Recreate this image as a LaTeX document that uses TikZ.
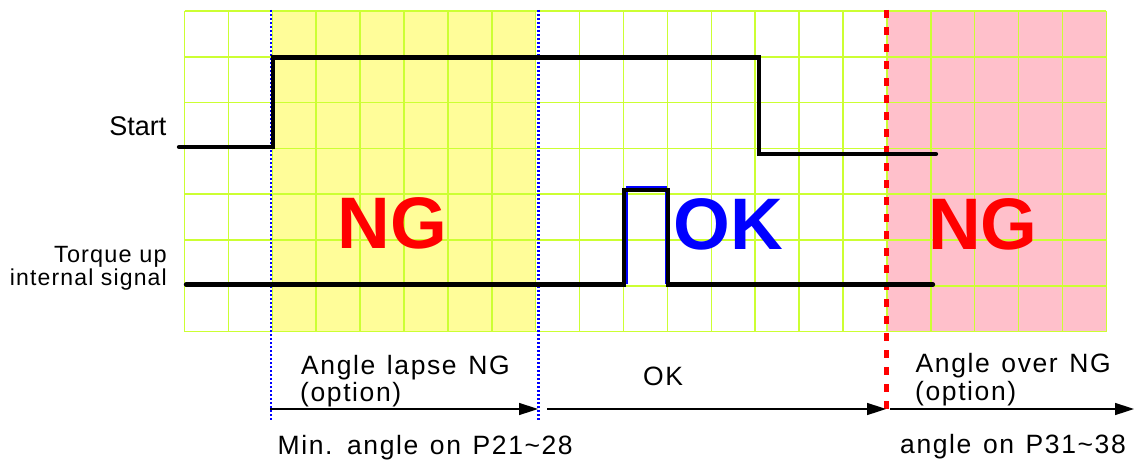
\documentclass[tikz,border=0pt]{standalone}
\usepackage{fontspec}
\setmainfont{Liberation Sans}
\newfontfamily\gul[LetterSpace=6,WordSpace=1.3]{Liberation Sans}
\newfontfamily\lab[LetterSpace=5]{Liberation Sans}
\usetikzlibrary{arrows.meta}
\definecolor{gridc}{RGB}{204,255,51}
\definecolor{yel}{RGB}{255,253,153}
\definecolor{pnk}{RGB}{255,192,203}
\begin{document}
\begin{tikzpicture}[x=1pt,y=-1pt,
  sig/.style={line width=4.3pt,line cap=round,line join=miter},
  pulse/.style={line width=2.5pt,blue,line join=miter},
  bluedot/.style={blue,line width=2.5pt,dash pattern=on 2pt off 2pt},
  reddash/.style={red,line width=5pt,dash pattern=on 8pt off 9pt},
  span/.style={line width=1.5pt,-{Triangle[length=19pt,width=12pt]}},
  txt/.style={inner sep=0pt,anchor=base west,font=\gul\fontsize{26.5}{27}\selectfont},
  big/.style={inner sep=0pt,anchor=base west,font=\bfseries\fontsize{73}{73}\selectfont}]
\useasboundingbox (0,0) rectangle (1134,460);
% fills
\fill[yel] (272.3,11) rectangle (535.7,331.6);
\fill[pnk] (886.9,11) rectangle (1106.4,331.6);
% grid
\foreach \i in {0,...,21} \draw[gridc,line width=1.5pt] ({184.5+43.9*\i},11) -- ({184.5+43.9*\i},331.6);
\foreach \j in {0,...,7} \draw[gridc,line width=1.5pt] (184.5,{11+45.8*\j}) -- (1106.4,{11+45.8*\j});
% boundary lines
\coordinate (b1t) at (271,10); \coordinate (b1b) at (271,420);
\coordinate (b2t) at (538.5,10); \coordinate (b2b) at (538.5,420);
\coordinate (r1t) at (886.5,10); \coordinate (r1b) at (886.5,414);
\draw[bluedot] (b1t) -- (b1b);
\draw[bluedot] (b2t) -- (b2b);
\draw[reddash] (r1t) -- (r1b);
% signals
\draw[sig] (179,147) -- (273,147) -- (273,57.5) -- (759,57.5) -- (759,154) -- (936,154);
\draw[pulse] (626.8,284) -- (626.8,187.3) -- (666,187.3) -- (666,284);
\draw[sig] (186,284.5) -- (624,284.5) -- (624,190.3) -- (668.3,190.3) -- (668.3,284.5) -- (933,284.5);
% labels
\node[inner sep=0pt,anchor=base east,font=\fontsize{27}{27}\selectfont] (st) at (166.5,135) {Start};
\node[inner sep=0pt,anchor=base east,font=\lab\fontsize{23.5}{23.5}\selectfont] (tq1) at (167,262.3) {Torque up};
\node[inner sep=0pt,anchor=base east,font=\lab\fontsize{23}{23}\selectfont] (tq2) at (167,285) {internal signal};
\node[big,red] (ng1) at (337.4,248.7) {NG};
\node[big,blue] (ok) at (673.5,249) {OK};
\node[big,red] (ng2) at (928,249) {NG};
% arrows
\coordinate (a1s) at (270,409); \coordinate (a1e) at (538,409);
\coordinate (a2s) at (547,409); \coordinate (a2e) at (886,409);
\coordinate (a3s) at (890,409); \coordinate (a3e) at (1134,409);
\draw[span] (a1s) -- (a1e);
\draw[span] (a2s) -- (a2e);
\draw[span] (a3s) -- (a3e);
% bottom texts
\node[txt] (t1) at (301,374) {Angle lapse NG};
\node[txt] (t1b) at (300,401) {(option)};
\node[txt] (t2) at (643,385) {OK};
\node[txt] (t3) at (277.5,454) {Min. angle on P21\textasciitilde 28};
\node[txt] (t4) at (915.5,372.7) {Angle over NG};
\node[txt] (t4b) at (915,400) {(option)};
\node[txt] (t5) at (900,453.3) {angle on P31\textasciitilde 38};
\end{tikzpicture}
\end{document}
